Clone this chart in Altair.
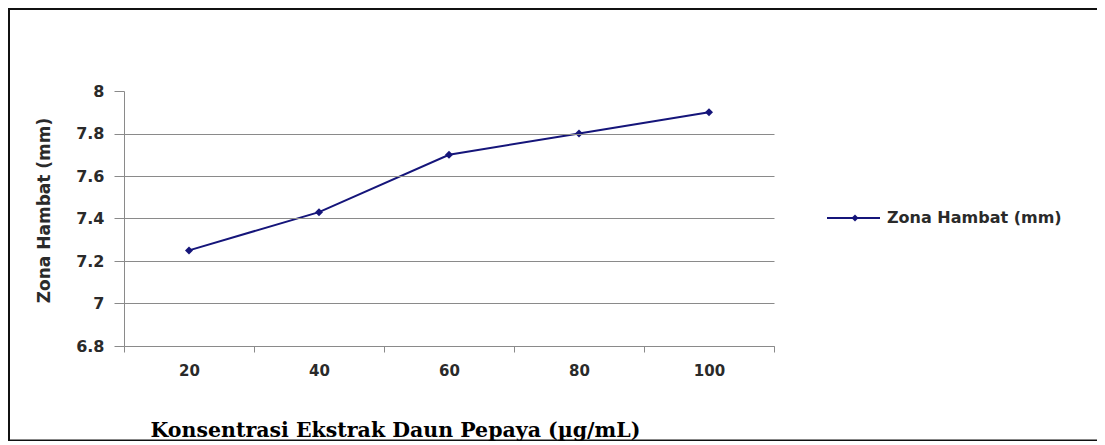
import altair as alt
import pandas as pd

# data
konsentrasi = [20, 40, 60, 80, 100]
zona_hambat = [7.25, 7.43, 7.70, 7.80, 7.90]
series_name = "Zona Hambat (mm)"
y_ticks = [6.8, 7.0, 7.2, 7.4, 7.6, 7.8, 8.0]
x_ticks = [10, 20, 30, 40, 50, 60, 70, 80, 90, 100, 110]

df = pd.DataFrame({"x": konsentrasi, "y": zona_hambat, "s": [series_name] * len(konsentrasi)})
legend_df = pd.DataFrame({"s": [series_name]})
frame_df = pd.DataFrame({"part": ["outer"]})
inner_df = pd.DataFrame({"part": ["inner"]})

LINE = "#15157a"
AX = "#8a8a8a"

x_enc = alt.X(
    "x:Q",
    scale=alt.Scale(domain=[10, 110], nice=False, zero=False),
    axis=alt.Axis(
        zindex=1,
        values=x_ticks,
        labelExpr="datum.value % 20 == 0 ? datum.label : ''",
        grid=False,
        domainColor=AX,
        tickColor=AX,
        tickSize=6,
        tickOpacity={"condition": {"test": "datum.value % 20 == 10", "value": 1}, "value": 0},
        labelFont="DejaVu Sans",
        labelFontWeight="bold",
        labelFontSize=15,
        labelColor="#2a2a2a",
        labelPadding=11,
        title="Konsentrasi Ekstrak Daun Pepaya (µg/mL)",
        titleFont="DejaVu Serif",
        titleFontWeight="bold",
        titleFontSize=20.5,
        titleColor="#000000",
        titleAlign="left",
        titleBaseline="alphabetic",
        titleX=26,
        titleY=90,
    ),
)

y_enc = alt.Y(
    "y:Q",
    scale=alt.Scale(domain=[6.8, 8.0], nice=False, zero=False),
    axis=alt.Axis(
        zindex=1,
        values=y_ticks,
        format=".1~f",
        grid=True,
        gridColor=AX,
        gridWidth=1,
        gridOpacity={"condition": {"test": "datum.value >= 7.9", "value": 0}, "value": 1},
        domainColor=AX,
        tickColor=AX,
        tickSize=10,
        labelFont="DejaVu Sans",
        labelFontWeight="bold",
        labelFontSize=16,
        labelColor="#2a2a2a",
        labelPadding=10,
        title=series_name,
        titleFont="DejaVu Sans",
        titleFontWeight="bold",
        titleFontSize=17,
        titleColor="#2a2a2a",
        titleAngle=270,
        titleAlign="center",
        titleBaseline="middle",
        titleX=-80,
        titleY=119,
    ),
)

# frame: a black sheet with a white sheet on it leaves the left, top and bottom edges;
# the right side runs off the page
outer = alt.Chart(frame_df).mark_rect(color="#111111").encode(
    x=alt.value(-116), x2=alt.value(1000), y=alt.value(-83), y2=alt.value(350.5)
)
inner = alt.Chart(inner_df).mark_rect(color="#ffffff").encode(
    x=alt.value(-114), x2=alt.value(1000), y=alt.value(-81), y2=alt.value(348.5)
)

line = alt.Chart(df).mark_line(color=LINE, strokeWidth=2).encode(x=x_enc, y=y_enc)
pts = alt.Chart(df).mark_point(shape="diamond", filled=True, size=64, color=LINE, opacity=1).encode(
    x="x:Q", y="y:Q"
)

# legend (manual)
leg_line = alt.Chart(legend_df).mark_rect(color=LINE).encode(
    x=alt.value(703), x2=alt.value(756), y=alt.value(126), y2=alt.value(128)
)
leg_pt = alt.Chart(legend_df).mark_point(shape="diamond", filled=True, size=50, color=LINE, opacity=1).encode(
    x=alt.value(731), y=alt.value(127)
)
leg_txt = alt.Chart(legend_df).mark_text(
    align="left", baseline="middle", font="DejaVu Sans", fontWeight="bold", fontSize=16, color="#2a2a2a"
).encode(x=alt.value(763), y=alt.value(127), text="s:N")

chart = (
    alt.layer(outer, inner, line, pts, leg_line, leg_pt, leg_txt)
    .properties(
        width=650,
        height=255,
        padding={"left": 116, "top": 83, "right": 323, "bottom": 95},
        autosize=alt.AutoSizeParams(type="none"),
        background="white",
    )
    .configure_view(stroke=None)
)

chart.save("out.html", embed_options={"renderer": "svg", "actions": False})
